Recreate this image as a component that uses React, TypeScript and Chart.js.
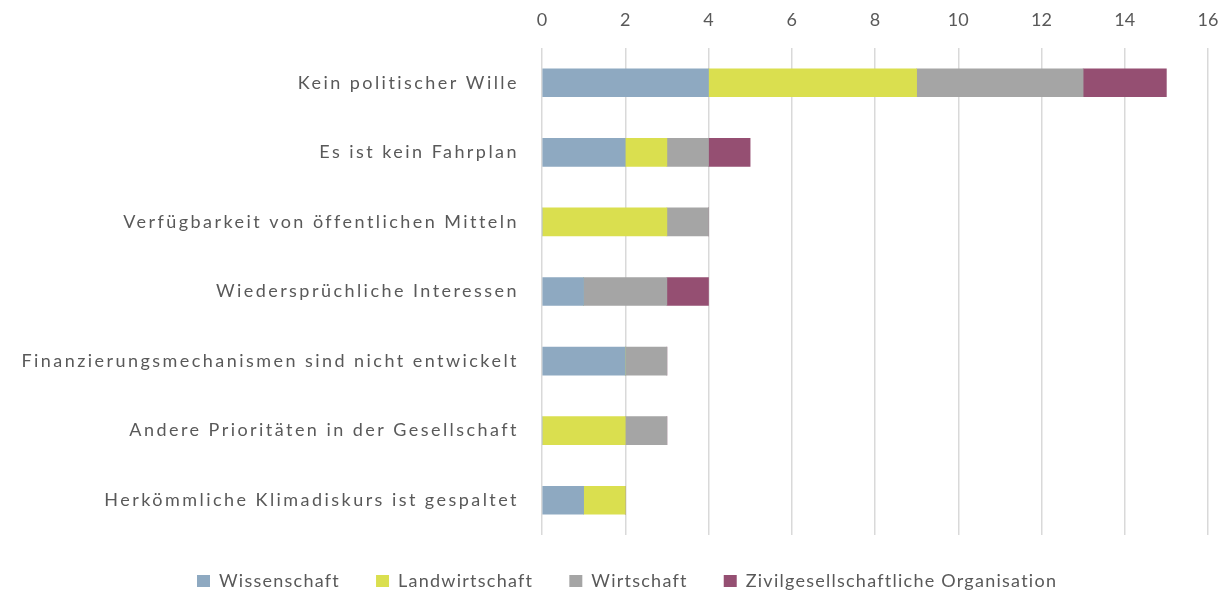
import React, { useEffect, useRef } from "react";
import { Chart, registerables } from "chart.js";

Chart.register(...registerables);

const categories = [
  "Kein politischer Wille",
  "Es ist kein Fahrplan",
  "Verfügbarkeit von öffentlichen Mitteln",
  "Wiedersprüchliche Interessen",
  "Finanzierungsmechanismen sind nicht entwickelt",
  "Andere Prioritäten in der Gesellschaft",
  "Herkömmliche Klimadiskurs ist gespaltet",
];
const wissenschaft = [4, 2, 0, 1, 2, 0, 1];
const landwirtschaft = [5, 1, 3, 0, 0, 2, 1];
const wirtschaft = [4, 1, 1, 2, 1, 1, 0];
const zivil = [2, 1, 0, 1, 0, 0, 0];
const seriesNames = ["Wissenschaft", "Landwirtschaft", "Wirtschaft", "Zivilgesellschaftliche Organisation"];
const seriesColors = ["#8EA9C1", "#DADF4F", "#A5A5A5", "#954F72"];
const xMin = 0;
const xMax = 16;
const xStep = 2;

const FONT = "Lato, 'Open Sans', sans-serif";
const TEXT = "#595959";
const Y_SPACING = "2.45px";
const LEGEND_SPACING = "1.25px";
const LEGEND_HEIGHT = 57;
const LEGEND_CENTER_Y = 581;
const LEGEND_LEFT = 197;

const spacingPlugin = {
  id: "spacing",
  beforeLayout(chart: any) {
    const ctx = chart.ctx;
    const yScale = chart.scales?.y;
    const legend = chart.legend;
    if (legend && !legend.__patched) {
      legend.__patched = true;
      const origFit = legend.fit;
      legend.fit = function () {
        ctx.save();
        ctx.letterSpacing = LEGEND_SPACING;
        origFit.call(this);
        ctx.restore();
        this.height = LEGEND_HEIGHT;
        this.minSize = { width: this.width, height: LEGEND_HEIGHT };
      };
      const origDraw = legend.draw;
      legend.draw = function (...args: any[]) {
        ctx.save();
        ctx.letterSpacing = LEGEND_SPACING;
        const pad = this.options.labels.padding;
        const fs = this.options.labels.font.size;
        const itemH = Math.max(this.options.labels.boxHeight, fs);
        const dy = LEGEND_CENTER_Y - (this.top + pad + itemH / 2);
        const hb = this.legendHitBoxes;
        const dx = hb && hb.length ? LEGEND_LEFT - hb[0].left : 0;
        const saved = { left: this.left, right: this.right, bottom: this.bottom, top: this.top };
        this.left -= 400;
        this.right += 400;
        this.bottom += 400;
        ctx.translate(dx, dy);
        try {
          origDraw.apply(this, args);
        } finally {
          Object.assign(this, saved);
          ctx.restore();
        }
      };
    }
    if (yScale && !yScale.__patched) {
      yScale.__patched = true;
      const origLabels = yScale.drawLabels;
      yScale.drawLabels = function (...args: any[]) {
        ctx.save();
        ctx.letterSpacing = Y_SPACING;
        origLabels.apply(this, args);
        ctx.restore();
      };
    }
  },
};

export default function App() {
  const ref = useRef<HTMLCanvasElement | null>(null);
  useEffect(() => {
    if (!ref.current) return;
    const values = [wissenschaft, landwirtschaft, wirtschaft, zivil];
    const chart = new Chart(ref.current, {
      type: "bar",
      data: {
        labels: categories,
        datasets: values.map((v, i) => ({
          label: seriesNames[i],
          data: v,
          backgroundColor: seriesColors[i],
          borderWidth: 0,
          barThickness: 28,
        })),
      },
      options: {
        indexAxis: "y",
        animation: false,
        responsive: false,
        maintainAspectRatio: false,
        layout: { padding: { top: 0, right: 16, bottom: 0, left: 0 } },
        scales: {
          x: {
            position: "top",
            stacked: true,
            min: xMin,
            max: xMax,
            ticks: { stepSize: xStep, color: TEXT, font: { family: FONT, size: 18 }, padding: 17 },
            grid: { color: "#D9D9D9", lineWidth: 1.5, drawTicks: false },
            border: { display: false },
            afterFit: (s: any) => {
              s.height = 48;
              s.paddingLeft = 0;
              s.paddingRight = 0;
            },
          },
          y: {
            stacked: true,
            ticks: { color: TEXT, font: { family: FONT, size: 18 }, padding: 23 },
            grid: { display: false, drawTicks: false },
            border: { display: false },
            afterFit: (s: any) => {
              s.width = 542;
              s.paddingTop = 0;
              s.paddingBottom = 0;
            },
          },
        },
        plugins: {
          legend: {
            position: "bottom",
            labels: {
              color: TEXT,
              font: { family: FONT, size: 18 },
              boxWidth: 13,
              boxHeight: 12,
              padding: 36,
            },
          },
          tooltip: { enabled: false },
        },
      },
      plugins: [spacingPlugin],
    });
    return () => chart.destroy();
  }, []);
  return (
    <div style={{ position: "fixed", left: 0, top: 0, width: 1224, height: 592, background: "#fff" }}>
      <canvas ref={ref} width={1224} height={592} />
    </div>
  );
}
